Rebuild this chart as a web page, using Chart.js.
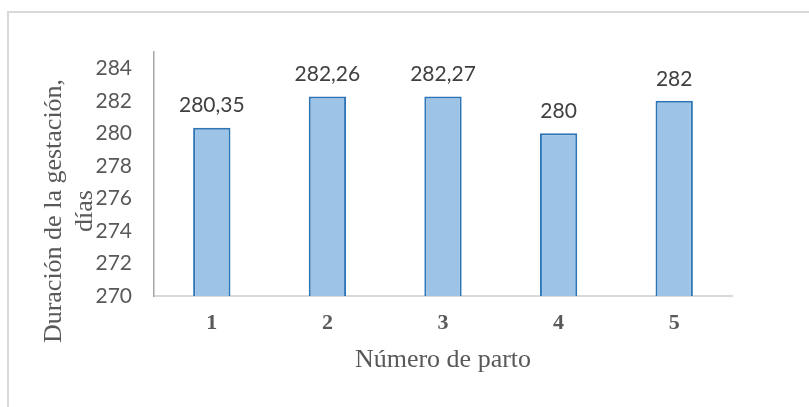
<!DOCTYPE html>
<html lang="es">
<head>
<meta charset="utf-8">
<title>Duración de la gestación por número de parto</title>
<script src="https://cdn.jsdelivr.net/npm/chart.js@4/dist/chart.umd.min.js"></script>
<style>
  html, body { margin: 0; padding: 0; background: #fff; overflow: hidden; }
  #wrap { position: relative; width: 809px; height: 407px; overflow: hidden; }
  #frame { position: absolute; left: 7px; top: 11px; width: 900px; height: 500px;
           border: 2px solid #d9d9d9; box-sizing: border-box; }
  #chart { position: absolute; left: 0; top: 0; }
</style>
</head>
<body>
<div id="wrap">
  <div id="frame"></div>
  <canvas id="chart" width="809" height="407"></canvas>
</div>
<script>
// Parto number on the x axis
const categories = ['1', '2', '3', '4', '5'];
// Mean gestation length (days) for each parto
const gestationDays = [280.35, 282.26, 282.27, 280, 282];
// Value-axis tick marks
const yTickValues = [270, 272, 274, 276, 278, 280, 282, 284];
// Axis titles
const xTitle = 'Número de parto';
const yTitleLines = ['Duración de la gestación,', 'días'];

const GREY_TEXT = '#595959';
const SERIF = "'Liberation Serif', 'Times New Roman', serif";
const SANS = "Lato, 'Open Sans', sans-serif";

// Writes each bar's value (decimal comma) above it
const valueLabels = {
  id: 'valueLabels',
  afterDatasetsDraw(chart) {
    const ctx = chart.ctx;
    const meta = chart.getDatasetMeta(0);
    const values = chart.data.datasets[0].data;
    ctx.save();
    ctx.font = '21px ' + SANS;
    ctx.fillStyle = '#404040';
    ctx.textAlign = 'center';
    ctx.textBaseline = 'middle';
    meta.data.forEach((bar, i) => {
      ctx.fillText(String(values[i]).replace('.', ','), bar.x, bar.y - 22);
    });
    ctx.restore();
  }
};

// Two-line rotated title for the value axis, centred on the chart frame
const sideTitle = {
  id: 'sideTitle',
  afterDraw(chart, args, opts) {
    const ctx = chart.ctx;
    ctx.save();
    ctx.translate(opts.x, opts.y);
    ctx.rotate(-Math.PI / 2);
    ctx.font = '26px ' + SERIF;
    ctx.fillStyle = GREY_TEXT;
    ctx.textAlign = 'center';
    ctx.textBaseline = 'middle';
    opts.lines.forEach((line, i) => ctx.fillText(line, 0, i * opts.lineHeight));
    ctx.restore();
  }
};

new Chart(document.getElementById('chart'), {
  type: 'bar',
  data: {
    labels: categories,
    datasets: [{
      data: gestationDays,
      backgroundColor: '#9dc3e6',
      borderColor: '#2e75b6',
      borderWidth: 2,
      barPercentage: 0.323,
      categoryPercentage: 1
    }]
  },
  options: {
    responsive: false,
    animation: false,
    events: [],
    layout: { padding: { top: 52, right: 77, bottom: 0, left: 0 } },
    plugins: {
      legend: { display: false },
      tooltip: { enabled: false },
      sideTitle: { lines: yTitleLines, x: 54, y: 211, lineHeight: 31 }
    },
    scales: {
      x: {
        grid: { display: false, drawTicks: false },
        border: { display: true, color: '#d9d9d9', width: 2 },
        ticks: {
          color: GREY_TEXT,
          padding: 14,
          font: { family: SERIF, size: 22, weight: 'bold' }
        },
        title: {
          display: true,
          text: xTitle,
          color: GREY_TEXT,
          font: { family: SERIF, size: 26 },
          padding: { top: 4, bottom: 31 }
        },
        afterFit(scale) { scale.height = 111; }
      },
      y: {
        min: 270,
        max: 285,
        grid: { display: false, drawTicks: false },
        border: { display: true, color: '#a6a6a6', width: 1.5 },
        ticks: {
          color: GREY_TEXT,
          padding: 22,
          font: { family: SANS, size: 21 }
        },
        afterBuildTicks(scale) {
          scale.ticks = yTickValues.map(v => ({ value: v }));
        },
        afterFit(scale) { scale.width = 154; }
      }
    }
  },
  plugins: [valueLabels, sideTitle]
});
</script>
</body>
</html>
